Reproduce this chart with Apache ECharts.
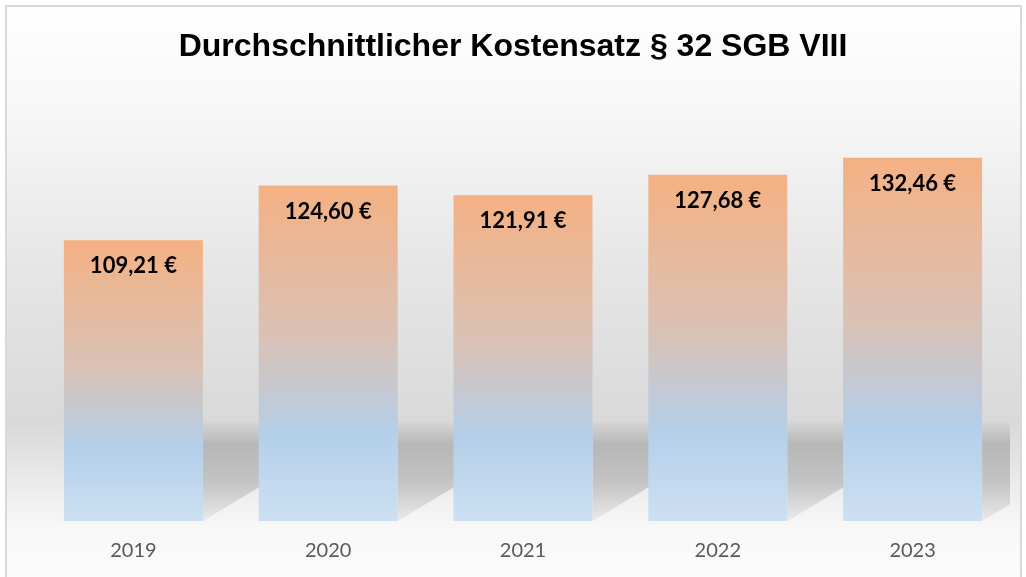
<!DOCTYPE html>
<html>
<head>
<meta charset="utf-8">
<script src="https://cdn.jsdelivr.net/npm/echarts@6/dist/echarts.min.js"></script>
<style>
  html, body { margin: 0; padding: 0; background: #fff; }
  #main { width: 1026px; height: 577px; }
</style>
</head>
<body>
<div id="main"></div>
<script>
// Daten
var jahre = ['2019', '2020', '2021', '2022', '2023'];
var kostensatz = [109.21, 124.60, 121.91, 127.68, 132.46];

var myChart = echarts.init(document.getElementById('main'));

var BAR_W = 139;

function euro(v) {
    return v.toFixed(2).replace('.', ',') + ' €';
}

// Schatten auf dem "Boden" rechts neben jedem Balken
function renderShadow(params, api) {
    var base = api.coord([api.value(0), 30]);
    var xr = base[0] + BAR_W / 2;
    var yb = base[1];
    var top = 420;
    var w = 95;
    return {
        type: 'polygon',
        shape: { points: [[xr, top], [xr + w, top], [xr + w, yb - w * 0.6], [xr, yb]] },
        style: {
            fill: new echarts.graphic.LinearGradient(0, 0, 0, 1, [
                { offset: 0, color: 'rgba(0,0,0,0)' },
                { offset: 0.24, color: 'rgba(0,0,0,0.18)' },
                { offset: 0.6, color: 'rgba(0,0,0,0.17)' },
                { offset: 1, color: 'rgba(0,0,0,0.05)' }
            ])
        }
    };
}

var option = {
    backgroundColor: '#ffffff',
    animation: false,
    graphic: [{
        type: 'rect',
        z: -10,
        shape: { x: 6, y: 6, width: 1015, height: 580 },
        style: {
            fill: new echarts.graphic.LinearGradient(0, 0, 0, 1, [
                { offset: 0, color: '#ffffff' },
                { offset: 0.165, color: '#f8f8f8' },
                { offset: 0.43, color: '#e7e7e7' },
                { offset: 0.72, color: '#d9d9d9' },
                { offset: 0.81, color: '#e9e9e9' },
                { offset: 0.9, color: '#f8f8f8' },
                { offset: 1, color: '#fcfcfc' }
            ]),
            stroke: '#d9d9d9',
            lineWidth: 2
        }
    }],
    title: {
        text: 'Durchschnittlicher Kostensatz § 32 SGB VIII',
        left: 'center',
        top: 26,
        textStyle: {
            fontFamily: 'Liberation Sans',
            fontWeight: 'bold',
            fontSize: 32,
            color: '#000'
        }
    },
    grid: { left: 36, right: 16, top: 131, bottom: 56 },
    xAxis: {
        type: 'category',
        data: jahre,
        axisLine: { show: false },
        axisTick: { show: false },
        axisLabel: {
            color: '#595959',
            fontFamily: 'Lato',
            fontSize: 20,
            margin: 20
        }
    },
    yAxis: {
        type: 'value',
        min: 30,
        max: 140,
        show: false,
        splitLine: { show: false }
    },
    series: [
        {
            type: 'custom',
            z: 1,
            clip: true,
            silent: true,
            renderItem: renderShadow,
            data: jahre.map(function (j, i) { return [i, kostensatz[i]]; })
        },
        {
            name: 'Kostensatz',
            type: 'bar',
            z: 2,
            barWidth: BAR_W,
            data: kostensatz,
            itemStyle: {
                color: new echarts.graphic.LinearGradient(0, 0, 0, 1, [
                    { offset: 0, color: '#f4b183' },
                    { offset: 0.45, color: '#dac1b5' },
                    { offset: 0.74, color: '#b3cfe9' },
                    { offset: 1, color: '#cde0f3' }
                ])
            },
            label: {
                show: true,
                position: 'insideTop',
                distance: 15,
                formatter: function (p) { return euro(p.value); },
                color: '#000',
                fontFamily: 'Lato',
                fontWeight: 'bold',
                fontSize: 22
            }
        }
    ]
};

myChart.setOption(option);
</script>
</body>
</html>
